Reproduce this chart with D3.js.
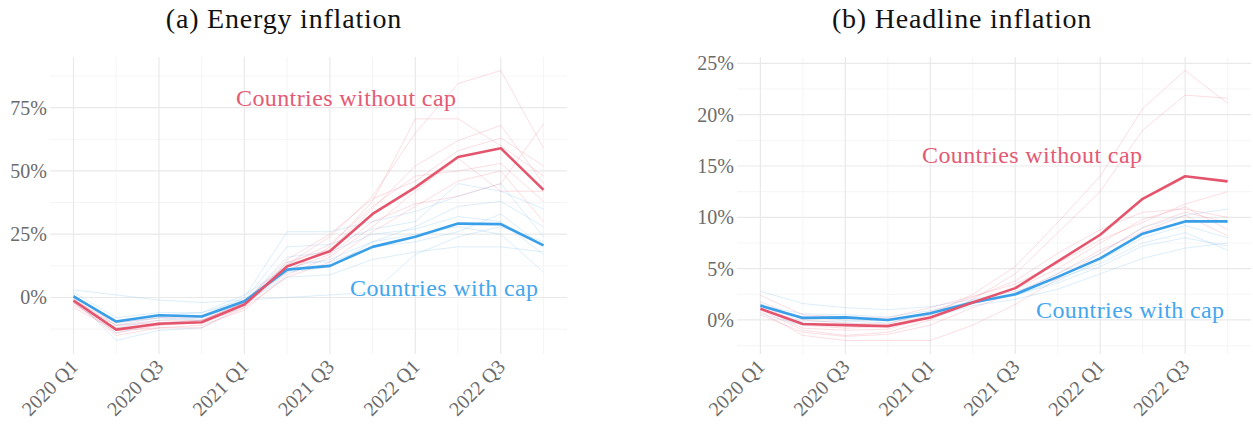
<!DOCTYPE html>
<html>
<head>
<meta charset="utf-8">
<script src="https://cdn.jsdelivr.net/npm/d3@7"></script>
<style>
  html, body { margin: 0; padding: 0; background: #fff; }
  svg { display: block; }
  text { font-family: "Palatino Linotype", "Book Antiqua", Palatino, "Liberation Serif", serif; }
</style>
</head>
<body>
<svg id="chart" width="1253" height="427"></svg>
<script>
// Quarters on the x axis and the ones that carry a label
const quarters = ["2020 Q1","2020 Q2","2020 Q3","2020 Q4","2021 Q1","2021 Q2","2021 Q3","2021 Q4","2022 Q1","2022 Q2","2022 Q3","2022 Q4"];
const xTickLabels = ["2020 Q1","2020 Q3","2021 Q1","2021 Q3","2022 Q1","2022 Q3"];

// Energy inflation (%), group averages
const energyWithoutCap = [-1.2, -12.7, -10.4, -9.8, -2.8, 12.3, 18.3, 33.0, 43.5, 55.5, 59.0, 42.5];
const energyWithCap    = [0.4, -9.5, -7.0, -7.5, -1.5, 11.0, 12.5, 20.0, 24.0, 29.2, 29.0, 20.6];

// Energy inflation (%), individual countries
const energyCountriesWithoutCap = [
  [-2, -14, -11, -10, -3, 13, 24, 40, 65, 84.5, 89.7, 59],
  [-1, -11, -9, -9, -2, 10, 20, 38, 70.6, 70.6, 60, 48],
  [0, -13, -10, -10, -4, 14, 19, 35, 52, 62, 68, 45],
  [-3, -12, -11, -9, -3, 11, 17, 30, 37, 40, 45, 68.6],
  [-2, -15, -12, -11, -5, 9, 16, 28, 42, 55, 42, 42],
  [-1, -10, -8, -8, -1, 13, 21, 36, 48, 50, 53, 38],
  [-4, -13, -12, -12, -4, 8, 14, 26, 36, 46, 50, 30],
  [-2, -11, -10, -9, -2, 15, 25, 39, 46, 58, 63, 52]
];
const energyCountriesWithCap = [
  [1, -10, -8, -7, 0, 26, 26, 30, 34, 40, 45, 24],
  [3, 1, -1, -2, -1, 0, 1, 2, 17, 24, 28, 22],
  [0, -17, -13, -12, -3, 10, 12, 22, 28, 36, 38, 28],
  [-1, -12, -9, -8, -2, 16, 18, 25, 27, 32, 30, 17],
  [2, -8, -6, -6, 1, 12, 15, 22, 25, 28, 25, 10],
  [0, -9, -7, -6, -1, 20, 21, 27, 30, 45, 42, 35],
  [1, -11, -8, -9, -2, 8, 9, 15, 18, 20, 20, 18],
  [-2, -14, -10, -9, -3, 14, 14, 20, 22, 26, 33, 20]
];

// Headline inflation (%), group averages
const headlineWithoutCap = [1.1, -0.4, -0.5, -0.6, 0.25, 1.7, 3.1, 5.7, 8.3, 11.8, 14.0, 13.5];
const headlineWithCap    = [1.4, 0.2, 0.25, 0.0, 0.65, 1.7, 2.5, 4.2, 6.0, 8.4, 9.6, 9.6];

// Headline inflation (%), individual countries
const headlineCountriesWithoutCap = [
  [1.5, -0.5, -0.8, -0.6, 0.5, 2.5, 5.2, 9.5, 14.0, 20.6, 24.3, 21.1],
  [1.0, -1.0, -1.5, -1.2, 0.0, 2.0, 4.5, 8.5, 12.5, 18.5, 21.9, 21.6],
  [2.4, 0.5, 0.3, 0.2, 1.2, 2.3, 3.5, 5.5, 7.8, 9.5, 11.3, 12.5],
  [0.8, -1.5, -2.0, -2.0, -2.0, -0.5, 1.5, 4.0, 6.5, 9.0, 10.5, 9.5],
  [1.2, -0.8, -1.0, -0.9, 0.3, 1.8, 3.0, 5.0, 7.5, 9.8, 11.0, 8.8],
  [0.5, -1.2, -1.6, -1.4, -0.5, 1.2, 2.6, 4.5, 6.8, 8.6, 10.2, 8.2],
  [1.8, 0.0, -0.3, -0.4, 0.8, 2.2, 3.8, 6.5, 8.8, 10.5, 10.8, 10.0]
];
const headlineCountriesWithCap = [
  [2.8, 1.6, 1.2, 1.0, 1.3, 2.0, 2.8, 4.0, 5.5, 7.5, 8.5, 6.8],
  [1.2, 0.3, 0.0, -0.1, 0.5, 1.6, 2.4, 3.6, 5.2, 7.2, 8.0, 7.2],
  [1.6, -0.2, -0.1, -0.3, 0.6, 1.9, 2.6, 4.5, 6.5, 9.0, 10.2, 10.8],
  [0.6, -0.5, -0.3, -0.6, 0.2, 1.4, 2.0, 3.0, 4.5, 6.0, 7.0, 7.5],
  [1.4, 0.6, 0.5, 0.3, 0.9, 1.8, 2.4, 3.8, 5.8, 8.0, 9.2, 8.0]
];

// Axis ticks
const energyYTicks = [0, 25, 50, 75];
const headlineYTicks = [0, 5, 10, 15, 20, 25];

// Panel titles and line labels
const panelTitles = ["(a) Energy inflation", "(b) Headline inflation"];
const labelWithout = "Countries without cap";
const labelWith = "Countries with cap";

const COLORS = {
  without: "#e4556d",
  with: "#399fe8",
  withoutText: "#e35b74",
  withText: "#44a6ee",
  thinWithout: "#f0889a",
  thinWith: "#82c2f0",
  gridMajor: "#e9e9e9",
  gridMinor: "#f3f3f3",
  axisText: "#6b6b6b"
};

const FONT = '"Palatino Linotype", "Book Antiqua", Palatino, "Liberation Serif", serif';

const svg = d3.select("#chart");

const panels = [
  {
    title: panelTitles[0], titleX: 284,
    left: 50, right: 567,
    main: { without: energyWithoutCap, with: energyWithCap },
    countries: { without: energyCountriesWithoutCap, with: energyCountriesWithCap },
    yTicks: energyYTicks, yStep: 25,
    labelWithout: { x: 236, y: 106 },
    labelWith: { x: 350, y: 296 }
  },
  {
    title: panelTitles[1], titleX: 962,
    left: 737, right: 1251,
    main: { without: headlineWithoutCap, with: headlineWithCap },
    countries: { without: headlineCountriesWithoutCap, with: headlineCountriesWithCap },
    yTicks: headlineYTicks, yStep: 5,
    labelWithout: { x: 922, y: 163 },
    labelWith: { x: 1036, y: 318 }
  }
];

const TOP = 57, BOTTOM = 354;

panels.forEach(p => {
  const g = svg.append("g");

  // x: discrete quarters with 5% expansion on each side
  const x = d3.scalePoint().domain(quarters).range([p.left, p.right]).padding(0.55);

  // y: data extent with 5% expansion
  const all = [].concat(p.main.without, p.main.with, ...p.countries.without, ...p.countries.with);
  const [lo, hi] = d3.extent(all);
  const pad = (hi - lo) * 0.05;
  const y = d3.scaleLinear().domain([lo - pad, hi + pad]).range([BOTTOM, TOP]);

  // minor horizontal grid (midway between major ticks)
  const [d0, d1] = y.domain();
  const minorY = [];
  for (let v = p.yTicks[0] - p.yStep / 2; v <= d1; v += p.yStep) {
    if (v >= d0) minorY.push(v);
  }
  g.selectAll(".ymin").data(minorY).join("line")
    .attr("x1", p.left).attr("x2", p.right)
    .attr("y1", d => y(d)).attr("y2", d => y(d))
    .attr("stroke", COLORS.gridMinor).attr("stroke-width", 0.8);

  // minor vertical grid at unlabelled quarters
  const minorX = quarters.filter(q => !xTickLabels.includes(q));
  g.selectAll(".xmin").data(minorX).join("line")
    .attr("x1", d => x(d)).attr("x2", d => x(d))
    .attr("y1", TOP).attr("y2", BOTTOM)
    .attr("stroke", COLORS.gridMinor).attr("stroke-width", 0.8);

  // major grid
  g.selectAll(".ymaj").data(p.yTicks).join("line")
    .attr("x1", p.left).attr("x2", p.right)
    .attr("y1", d => y(d)).attr("y2", d => y(d))
    .attr("stroke", COLORS.gridMajor).attr("stroke-width", 1.2);
  g.selectAll(".xmaj").data(xTickLabels).join("line")
    .attr("x1", d => x(d)).attr("x2", d => x(d))
    .attr("y1", TOP).attr("y2", BOTTOM)
    .attr("stroke", COLORS.gridMajor).attr("stroke-width", 1.2);

  // y axis labels
  const yAxis = d3.axisLeft(y).tickValues(p.yTicks).tickFormat(d => d + "%").tickSize(0).tickPadding(3);
  const ya = g.append("g").attr("transform", `translate(${p.left},0)`).call(yAxis);
  ya.select(".domain").remove();
  ya.selectAll("text")
    .attr("fill", COLORS.axisText)
    .style("font-size", "20px")
    .style("font-family", FONT);

  // x axis labels, rotated 45 degrees
  const xAxis = d3.axisBottom(x).tickValues(xTickLabels).tickSize(0).tickPadding(0);
  const xa = g.append("g").attr("transform", `translate(0,${BOTTOM})`).call(xAxis);
  xa.select(".domain").remove();
  xa.selectAll("text")
    .attr("fill", COLORS.axisText)
    .style("font-size", "20px")
    .style("font-family", FONT)
    .attr("text-anchor", "end")
    .attr("dy", null)
    .attr("y", 0)
    .attr("transform", "translate(5,14) rotate(-45)");

  const line = d3.line().x((d, i) => x(quarters[i])).y(d => y(d));

  // individual countries
  g.selectAll(".cw").data(p.countries.with).join("path")
    .attr("d", line).attr("fill", "none")
    .attr("stroke", COLORS.thinWith).attr("stroke-width", 1).attr("stroke-opacity", 0.28);
  g.selectAll(".cwo").data(p.countries.without).join("path")
    .attr("d", line).attr("fill", "none")
    .attr("stroke", COLORS.thinWithout).attr("stroke-width", 1).attr("stroke-opacity", 0.28);

  // group averages
  g.append("path").datum(p.main.with).attr("d", line).attr("fill", "none")
    .attr("stroke", COLORS.with).attr("stroke-width", 2.6).attr("stroke-linejoin", "round");
  g.append("path").datum(p.main.without).attr("d", line).attr("fill", "none")
    .attr("stroke", COLORS.without).attr("stroke-width", 2.6).attr("stroke-linejoin", "round");

  // line labels
  g.append("text").attr("x", p.labelWithout.x).attr("y", p.labelWithout.y)
    .attr("fill", COLORS.withoutText).style("font-size", "24px").style("letter-spacing", "0.4px").text(labelWithout);
  g.append("text").attr("x", p.labelWith.x).attr("y", p.labelWith.y)
    .attr("fill", COLORS.withText).style("font-size", "24px").style("letter-spacing", "0.4px").text(labelWith);

  // title
  svg.append("text").attr("x", p.titleX).attr("y", 28).attr("text-anchor", "middle")
    .attr("fill", "#111").style("font-size", "28px").style("letter-spacing", "0.8px").text(p.title);
});
</script>
</body>
</html>
